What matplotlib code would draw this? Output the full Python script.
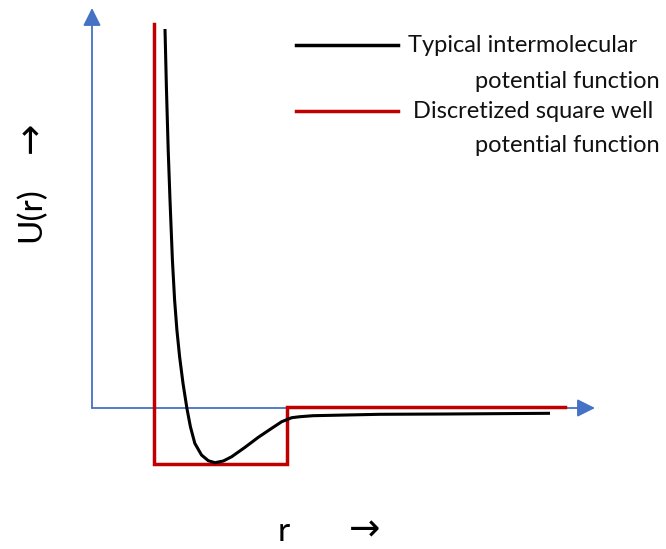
import matplotlib
matplotlib.use("Agg")
import matplotlib.pyplot as plt

# Typical intermolecular potential U(r), sampled points
r_curve = [0.73, 0.744, 0.762, 0.78, 0.804, 0.826, 0.849, 0.876, 0.91, 0.949,
           0.984, 1.028, 1.095, 1.163, 1.23, 1.313, 1.397, 1.53, 1.663, 1.797,
           1.897, 1.997, 2.08, 2.21, 2.88, 3.547, 4.58]
u_curve = [3.79, 3.21, 2.58, 2.08, 1.48, 1.08, 0.78, 0.513, 0.247, -0.003,
           -0.187, -0.353, -0.47, -0.527, -0.547, -0.53, -0.487, -0.393, -0.293, -0.203,
           -0.137, -0.097, -0.087, -0.077, -0.063, -0.06, -0.053]

# Discretized square-well potential
r_well = [0.62, 0.62, 1.95, 1.95, 4.73]
u_well = [3.84, -0.56, -0.56, 0.01, 0.01]

legend_labels = [("Typical intermolecular", "potential function"),
                 ("Discretized square well", "potential function")]

BLUE = "#4472C4"
RED = "#C00000"
W, H = 666, 549

fig = plt.figure(figsize=(W / 100, H / 100), dpi=100)
ax = fig.add_axes([0, 0, 1, 1])
ax.set_xlim(-0.92, 5.74)
ax.set_ylim(-1.41, 4.08)
ax.axis("off")

# Axes with arrowheads
arrow_kw = dict(arrowstyle="-|>,head_length=0.9,head_width=0.45", color=BLUE,
                lw=1.3, mutation_scale=12, shrinkA=0, shrinkB=0)
ax.annotate("", xy=(0, 4.0), xytext=(0, 0), arrowprops=arrow_kw, zorder=1)
ax.annotate("", xy=(5.03, 0), xytext=(0, 0), arrowprops=arrow_kw, zorder=1)

ax.plot(r_well, u_well, color=RED, lw=2.5, solid_joinstyle="miter", zorder=2)
ax.plot(r_curve, u_curve, color="black", lw=2.2, solid_joinstyle="round",
        solid_capstyle="butt", zorder=3)


def px(x, y):
    return x / W, 1 - y / H


font = ["Lato", "DejaVu Sans"]

# Legend
for (y_line, y2, color, (l1, l2), x_text) in [
        (45, 82, "black", legend_labels[0], 408),
        (111, 146, RED, legend_labels[1], 413)]:
    x0, y0 = px(296, y_line)
    x1, _ = px(398, y_line)
    fig.add_artist(plt.Line2D([x0, x1], [y0, y0], color=color, lw=2.5,
                              transform=fig.transFigure))
    fig.text(*px(x_text, y_line), l1, family=font, fontsize=17,
             ha="left", va="center", color="#111111")
    fig.text(*px(660, y2), l2, family=font, fontsize=17,
             ha="right", va="center", color="#111111")

# Axis labels
fig.text(*px(31, 215), "U(r)", family=font, fontsize=24, rotation=90,
         ha="center", va="center")
fig.text(*px(31, 137), "\u2192", family="DejaVu Sans", fontsize=27,
         rotation=90, ha="center", va="center")
fig.text(*px(284, 532), "r", family=font, fontsize=24, ha="center", va="center")
fig.text(*px(365, 530), "\u2192", family="DejaVu Sans", fontsize=27,
         ha="center", va="center")

fig.savefig("out.png", dpi=100)
